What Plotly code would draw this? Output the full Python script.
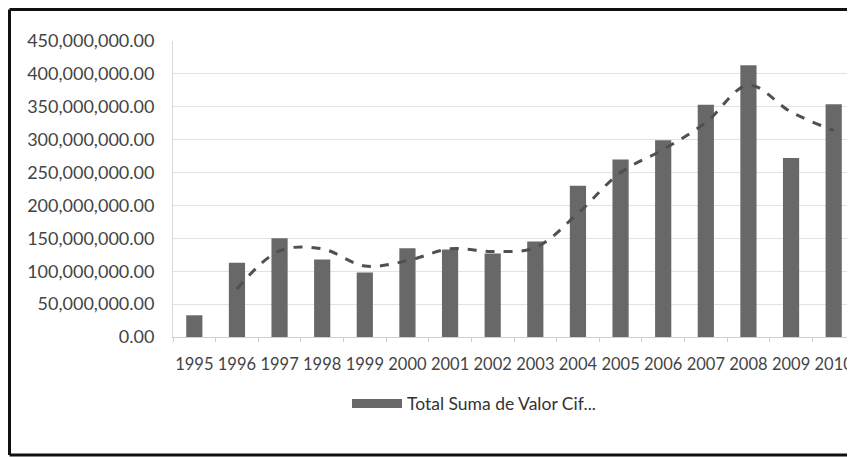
import plotly.graph_objects as go

# data
years = [str(y) for y in range(1995, 2011)]
valor_cif = [33e6, 113e6, 150e6, 118e6, 98e6, 135e6, 133e6, 127e6,
             145e6, 230e6, 270e6, 299e6, 353e6, 413e6, 272e6, 354e6]
# 2-period moving average trendline (as drawn in the picture, from 1996)
trend_years = years[1:]
trend_vals = [73e6, 131e6, 134e6, 108e6, 116e6, 134e6, 130e6, 136e6,
              188e6, 250e6, 285e6, 326e6, 383e6, 342e6, 314e6]
y_ticks = [i * 50e6 for i in range(10)]
y_labels = [f"{v:,.2f}" for v in y_ticks]

# page body has an 8px margin, so the figure is drawn 8px in and shrunk to fit
OFF = 8
W, H = 855 - OFF, 457 - OFF
L, R, T, B = 173 - OFF, 0, 41 - OFF, 457 - 337
pw, ph = W - L - R, H - T - B

def px(x):
    # screen pixel -> paper x
    return (x - OFF - L) / pw

def py(y):
    # screen pixel -> paper y
    return (H - B - (y - OFF)) / ph

fig = go.Figure()
fig.add_trace(go.Bar(
    x=years, y=valor_cif, name="Total Suma de Valor Cif...",
    marker=dict(color="#686868", line_width=0),
))
fig.add_trace(go.Scatter(
    x=trend_years, y=trend_vals, mode="lines",
    line=dict(color="#505050", width=3, dash="dash", shape="spline"),
    showlegend=False,
))

# outer chart frame
frame = [
    dict(type="line", x0=px(9.5), x1=px(870), y0=py(9.5), y1=py(9.5)),
    dict(type="line", x0=px(9.5), x1=px(9.5), y0=py(9.5), y1=py(455)),
    dict(type="line", x0=px(9.5), x1=px(870), y0=py(455), y1=py(455)),
]
shapes = [dict(s, xref="paper", yref="paper", line=dict(color="#111", width=3)) for s in frame]
# legend swatch
shapes.append(dict(type="rect", xref="paper", yref="paper",
                   x0=px(352), x1=px(402), y0=py(399), y1=py(408),
                   fillcolor="#686868", line_width=0))

fig.update_layout(
    width=W, height=H,
    margin=dict(l=L, r=R, t=T, b=B),
    paper_bgcolor="white", plot_bgcolor="white",
    font=dict(family="Lato", size=17, color="#444"),
    bargap=0.62,
    showlegend=False,
    shapes=shapes,
    annotations=[dict(text="Total Suma de Valor Cif...", xref="paper", yref="paper",
                      x=px(405), y=py(403), xanchor="left", yanchor="middle",
                      showarrow=False, font=dict(size=17.5, color="#333"))],
    xaxis=dict(type="category", showgrid=False, showline=True, linecolor="#cfcfcf",
               ticks="outside", tickson="boundaries", ticklen=4, tickcolor="#cfcfcf",
               tickangle=0, tickfont=dict(size=16.5), ticklabelstandoff=12),
    yaxis=dict(range=[0, 450e6], tickvals=y_ticks, ticktext=y_labels,
               showgrid=True, gridcolor="#e2e2e2", zeroline=False,
               showline=True, linecolor="#d8d8d8", ticks="", ticklabelstandoff=14,
               tickfont=dict(size=18)),
)

fig.write_html("out.html")
